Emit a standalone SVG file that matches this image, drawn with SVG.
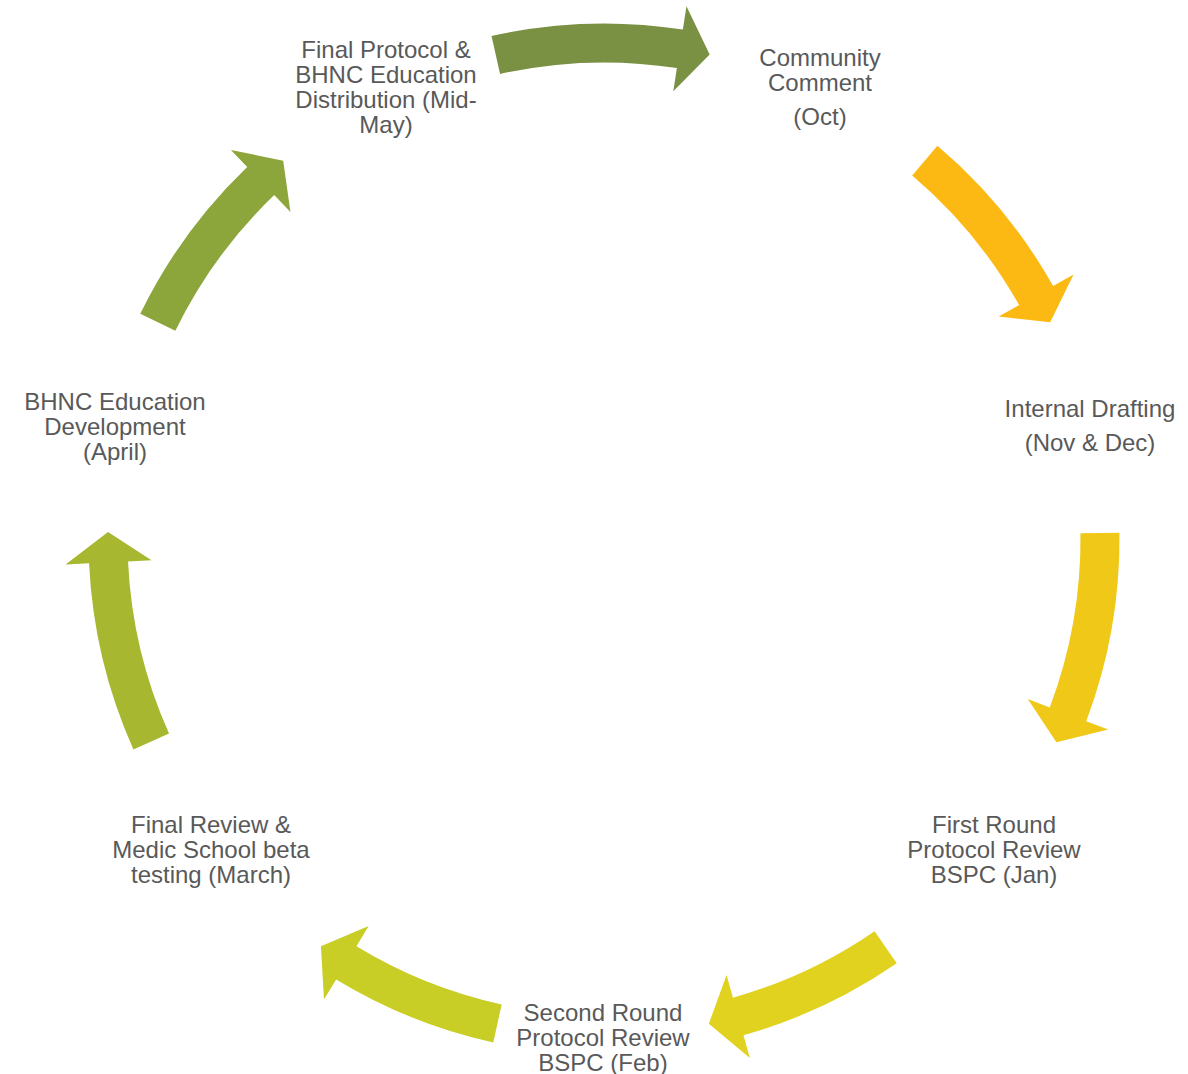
<svg xmlns="http://www.w3.org/2000/svg" width="1188" height="1074" viewBox="0 0 1188 1074">
<style>
text{font-family:"Liberation Sans",Arial,sans-serif;font-size:24px;fill:#595959;text-anchor:middle}
</style>
<defs>
<path id="arrA" d="M0,-515.5 A515.5,515.5 0 0 1 188.1,-479.96 L196.67,-501.84 L208.84,-449.89 L165.29,-421.77 L173.87,-443.65 A476.5,476.5 0 0 0 0,-476.5 Z"/>
<path id="arrB" d="M0,-515.5 A515.5,515.5 0 0 1 178.85,-483.48 L187,-505.52 L200.16,-453.82 L157.16,-424.86 L165.32,-446.9 A476.5,476.5 0 0 0 0,-476.5 Z"/>
<path id="arrC" d="M0,-515.5 A515.5,515.5 0 0 1 166.98,-487.71 L174.59,-509.94 L189.01,-458.58 L146.74,-428.58 L154.35,-450.81 A476.5,476.5 0 0 0 0,-476.5 Z"/>
</defs>
<rect width="1188" height="1074" fill="#ffffff"/>
<g id="connectors" transform="translate(604,539)">
<use href="#arrA" fill="#7A9143" transform="rotate(-12.6)"/>
<use href="#arrB" fill="#FDB913" transform="rotate(40.3)"/>
<use href="#arrA" fill="#F0C818" transform="rotate(89.3)"/>
<use href="#arrC" fill="#E0D21E" transform="rotate(145.4)"/>
<use href="#arrC" fill="#C8CE25" transform="rotate(192.4)"/>
<use href="#arrA" fill="#A8B730" transform="rotate(245.9)"/>
<use href="#arrB" fill="#8CA63B" transform="rotate(295.9)"/>
</g>
<g id="node-community">
<text x="820" y="66">Community</text>
<text x="820" y="91">Comment</text>
<text x="820" y="125">(Oct)</text>
</g>
<g id="node-internal">
<text x="1090" y="417">Internal Drafting</text>
<text x="1090" y="451">(Nov &amp; Dec)</text>
</g>
<g id="node-first">
<text x="994" y="833">First Round</text>
<text x="994" y="858">Protocol Review</text>
<text x="994" y="883">BSPC (Jan)</text>
</g>
<g id="node-second">
<text x="603" y="1021">Second Round</text>
<text x="603" y="1046">Protocol Review</text>
<text x="603" y="1071">BSPC (Feb)</text>
</g>
<g id="node-final-review">
<text x="211" y="833">Final Review &amp;</text>
<text x="211" y="858">Medic School beta</text>
<text x="211" y="883">testing (March)</text>
</g>
<g id="node-bhnc-dev">
<text x="115" y="410">BHNC Education</text>
<text x="115" y="435">Development</text>
<text x="115" y="460">(April)</text>
</g>
<g id="node-final-protocol">
<text x="386" y="58">Final Protocol &amp;</text>
<text x="386" y="83">BHNC Education</text>
<text x="386" y="108">Distribution (Mid-</text>
<text x="386" y="133">May)</text>
</g>
</svg>
